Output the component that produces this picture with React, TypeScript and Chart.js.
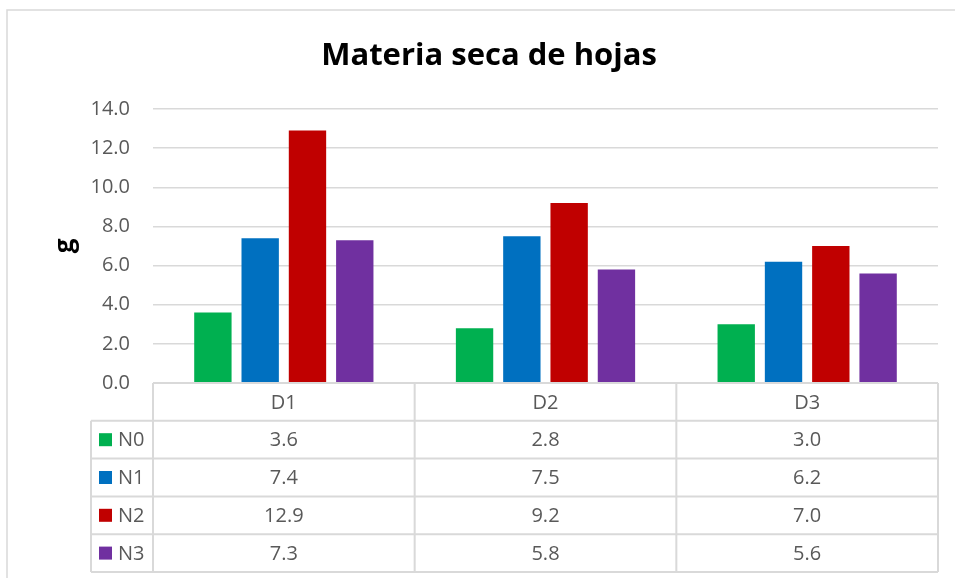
import React, { useEffect, useRef } from "react";
import { Chart, registerables } from "chart.js";

Chart.register(...registerables);

const titleText = "Materia seca de hojas";
const yAxisTitle = "g";
const categories = ["D1", "D2", "D3"];
const seriesNames = ["N0", "N1", "N2", "N3"];
const n0Values = [3.6, 2.8, 3.0];
const n1Values = [7.4, 7.5, 6.2];
const n2Values = [12.9, 9.2, 7.0];
const n3Values = [7.3, 5.8, 5.6];
const seriesColors = ["#00B050", "#0070C0", "#C00000", "#7030A0"];
const yMin = 0;
const yMax = 14;
const yStep = 2;

const TEXT = "#595959";
const LINE = "#D9D9D9";
const FONT = "'Open Sans', sans-serif";

const seriesValues = [n0Values, n1Values, n2Values, n3Values];

const decorPlugin = {
  id: "decor",
  beforeDraw(chart: any) {
    const ctx = chart.ctx;
    ctx.save();
    ctx.fillStyle = "#ffffff";
    ctx.fillRect(0, 0, chart.width, chart.height);
    ctx.strokeStyle = LINE;
    ctx.lineWidth = 1.5;
    ctx.beginPath();
    ctx.moveTo(7, chart.height + 5);
    ctx.lineTo(7, 10);
    ctx.lineTo(chart.width + 5, 10);
    ctx.stroke();
    ctx.restore();
  },
  afterDraw(chart: any) {
    const ctx = chart.ctx;
    const area = chart.chartArea;
    ctx.save();
    ctx.fillStyle = "#000000";
    ctx.font = `bold 31px ${FONT}`;
    ctx.textAlign = "center";
    ctx.textBaseline = "middle";
    ctx.fillText(titleText, 489, 56);
    ctx.save();
    ctx.translate(66, (area.top + area.bottom) / 2);
    ctx.rotate(-Math.PI / 2);
    ctx.font = `bold 26px ${FONT}`;
    ctx.fillText(yAxisTitle, 0, 0);
    ctx.restore();

    const nCat = categories.length;
    const colW = (area.right - area.left) / nCat;
    const rowH = (chart.height - 6 - area.bottom) / (seriesNames.length + 1);
    const legendLeft = area.left - 62;
    const bottom = area.bottom + rowH * (seriesNames.length + 1);
    ctx.strokeStyle = LINE;
    ctx.lineWidth = 2;
    ctx.beginPath();
    ctx.moveTo(area.left, area.bottom);
    ctx.lineTo(area.right, area.bottom);
    for (let r = 1; r <= seriesNames.length + 1; r++) {
      const y = area.bottom + r * rowH;
      ctx.moveTo(legendLeft, y);
      ctx.lineTo(area.right, y);
    }
    for (let c = 0; c <= nCat; c++) {
      const x = area.left + c * colW;
      ctx.moveTo(x, area.bottom);
      ctx.lineTo(x, bottom);
    }
    ctx.moveTo(legendLeft, area.bottom + rowH);
    ctx.lineTo(legendLeft, bottom);
    ctx.stroke();

    ctx.font = `20px ${FONT}`;
    ctx.fillStyle = TEXT;
    ctx.textAlign = "center";
    ctx.textBaseline = "middle";
    for (let c = 0; c < nCat; c++) {
      const cx = area.left + (c + 0.5) * colW;
      ctx.fillText(categories[c], cx, area.bottom + rowH / 2 + 1);
      for (let s = 0; s < seriesNames.length; s++) {
        const cy = area.bottom + (s + 1.5) * rowH + 1;
        ctx.fillText(seriesValues[s][c].toFixed(1), cx, cy);
      }
    }
    ctx.textAlign = "left";
    for (let s = 0; s < seriesNames.length; s++) {
      const cy = area.bottom + (s + 1.5) * rowH;
      ctx.fillStyle = seriesColors[s];
      ctx.fillRect(legendLeft + 8, cy - 6.5, 13, 13);
      ctx.fillStyle = TEXT;
      ctx.fillText(seriesNames[s], legendLeft + 27, cy + 1);
    }
    ctx.restore();
  },
};

export default function App() {
  const ref = useRef<HTMLCanvasElement>(null);
  useEffect(() => {
    const canvas = ref.current;
    if (!canvas) return;
    const chart = new Chart(canvas, {
      type: "bar",
      data: {
        labels: categories,
        datasets: seriesNames.map((name, i) => ({
          label: name,
          data: seriesValues[i],
          backgroundColor: seriesColors[i],
          borderWidth: 0,
          categoryPercentage: 0.723,
          barPercentage: 0.79,
        })),
      },
      options: {
        responsive: false,
        animation: false,
        devicePixelRatio: 1,
        layout: { padding: { top: 109, bottom: 195, left: 0, right: 17 } },
        plugins: {
          legend: { display: false },
          title: { display: false },
          tooltip: { enabled: false },
        },
        scales: {
          x: { display: false },
          y: {
            min: yMin,
            max: yMax,
            ticks: {
              stepSize: yStep,
              padding: 23,
              color: TEXT,
              font: { family: FONT, size: 20 },
              callback: (v: any) => Number(v).toFixed(1),
            },
            grid: { color: LINE, lineWidth: 1.5, drawTicks: false },
            border: { display: false },
            afterFit: (scale: any) => {
              scale.width = 153;
            },
          },
        },
      },
      plugins: [decorPlugin],
    });
    return () => chart.destroy();
  }, []);
  return (
    <div style={{ position: "fixed", left: 0, top: 0, width: 955, height: 578 }}>
      <canvas ref={ref} width={955} height={578} style={{ display: "block" }} />
    </div>
  );
}
